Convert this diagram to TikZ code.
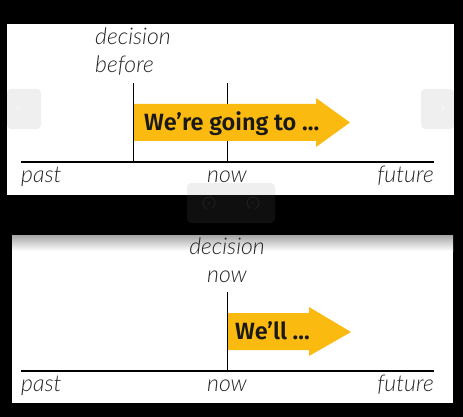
\documentclass[tikz,border=0pt]{standalone}
\usepackage{fontspec}
\usetikzlibrary{positioning}
\newfontfamily\thinfont{Lato Light Italic}
\newfontfamily\boldfont{Fira Sans SemiBold}
\definecolor{amber}{RGB}{251,186,16}
\tikzstyle{time_line} = [
    draw=black,
    line width=2pt
]
\tikzstyle{mark_line} = [
    draw=black,
    line width=1pt
]
\tikzstyle{big_arrow} = [
    fill=amber
]
\tikzstyle{arrow_text} = [
    font=\boldfont\fontsize{23.5}{23.5}\selectfont,
    text=black!90,
    inner sep=0pt,
    anchor=base west
]
\tikzstyle{axis_label} = [
    font=\thinfont\fontsize{23}{23}\selectfont,
    text=black!85,
    inner sep=0pt,
    anchor=base
]
\tikzstyle{ui_box} = [
    fill=gray,
    fill opacity=0.12,
    rounded corners=4pt
]
\tikzstyle{ui_icon} = [
    draw=white!12!black,
    line width=1pt
]

\begin{document}
\begin{tikzpicture}[x=1pt, y=-1pt]
\fill[black] (0,0) rectangle (463,417);
\useasboundingbox (0,0) rectangle (463,417);

% top panel: decision before
\fill[white] (7,24) rectangle (454,195);
\coordinate (past top) at (21,162);
\coordinate (future top) at (434,162);
\coordinate (before foot) at (133,162);
\coordinate (now foot top) at (227,162);
\draw [mark_line] (before foot) -- ++(0,-79) coordinate (before head);
\draw [mark_line] (now foot top) -- ++(0,-79);
\fill [big_arrow] (134,104) -- (316,104) -- (316,98) -- (350,122.5)
    -- (316,147) -- (316,141) -- (134,141) -- cycle;
\node [arrow_text] (going) at (144,131) {We’re going to …};
\draw [time_line] (past top) -- (future top);
\node [axis_label, anchor=base west] (decision top) at (95,45) {decision};
\node [axis_label, anchor=base west] (before) at (95,73) {before};
\node [axis_label, anchor=base west] (past a) at (21,182) {past};
\node [axis_label] (now a) at (227,182) {now};
\node [axis_label, anchor=base east] (future a) at (434,182) {future};

% bottom panel: decision now
\fill[white] (12,235) rectangle (453,403);
\shade [top color=gray!70, bottom color=white] (12,235) rectangle (453,251);
\coordinate (past bot) at (21,371);
\coordinate (future bot) at (434,371);
\coordinate (now foot bot) at (227,371);
\fill [big_arrow] (228,313) -- (309,313) -- (309,307) -- (351,332)
    -- (309,356) -- (309,350) -- (228,350) -- cycle;
\draw [mark_line] (now foot bot) -- ++(0,-79);
\node [arrow_text] (will) at (235,339) {We’ll …};
\draw [time_line] (past bot) -- (future bot);
\node [axis_label] (decision bot) at (227,254) {decision};
\node [axis_label] (now c) at (227,282) {now};
\node [axis_label, anchor=base west] (past b) at (21,391) {past};
\node [axis_label] (now b) at (227,391) {now};
\node [axis_label, anchor=base east] (future b) at (434,391) {future};

% carousel controls
\fill [ui_box] (7,89) rectangle (41,129);
\fill [ui_box] (421,89) rectangle (454,129);
\fill [ui_box] (187,183) rectangle (275,223);
\node [text=white, font=\thinfont\fontsize{14}{14}\selectfont] (prev) at (18,109) {‹};
\node [text=white, font=\thinfont\fontsize{14}{14}\selectfont] (next) at (443,109) {›};
\coordinate (rot left) at (209,203);
\coordinate (rot right) at (253,203);
\draw [ui_icon] (rot left) ++(110:6) arc (110:420:6);
\draw [ui_icon] (rot right) ++(70:6) arc (70:-240:6);
\fill [white!12!black] (rot left) circle (1.2);
\fill [white!12!black] (rot right) circle (1.2);
\end{tikzpicture}
\end{document}
